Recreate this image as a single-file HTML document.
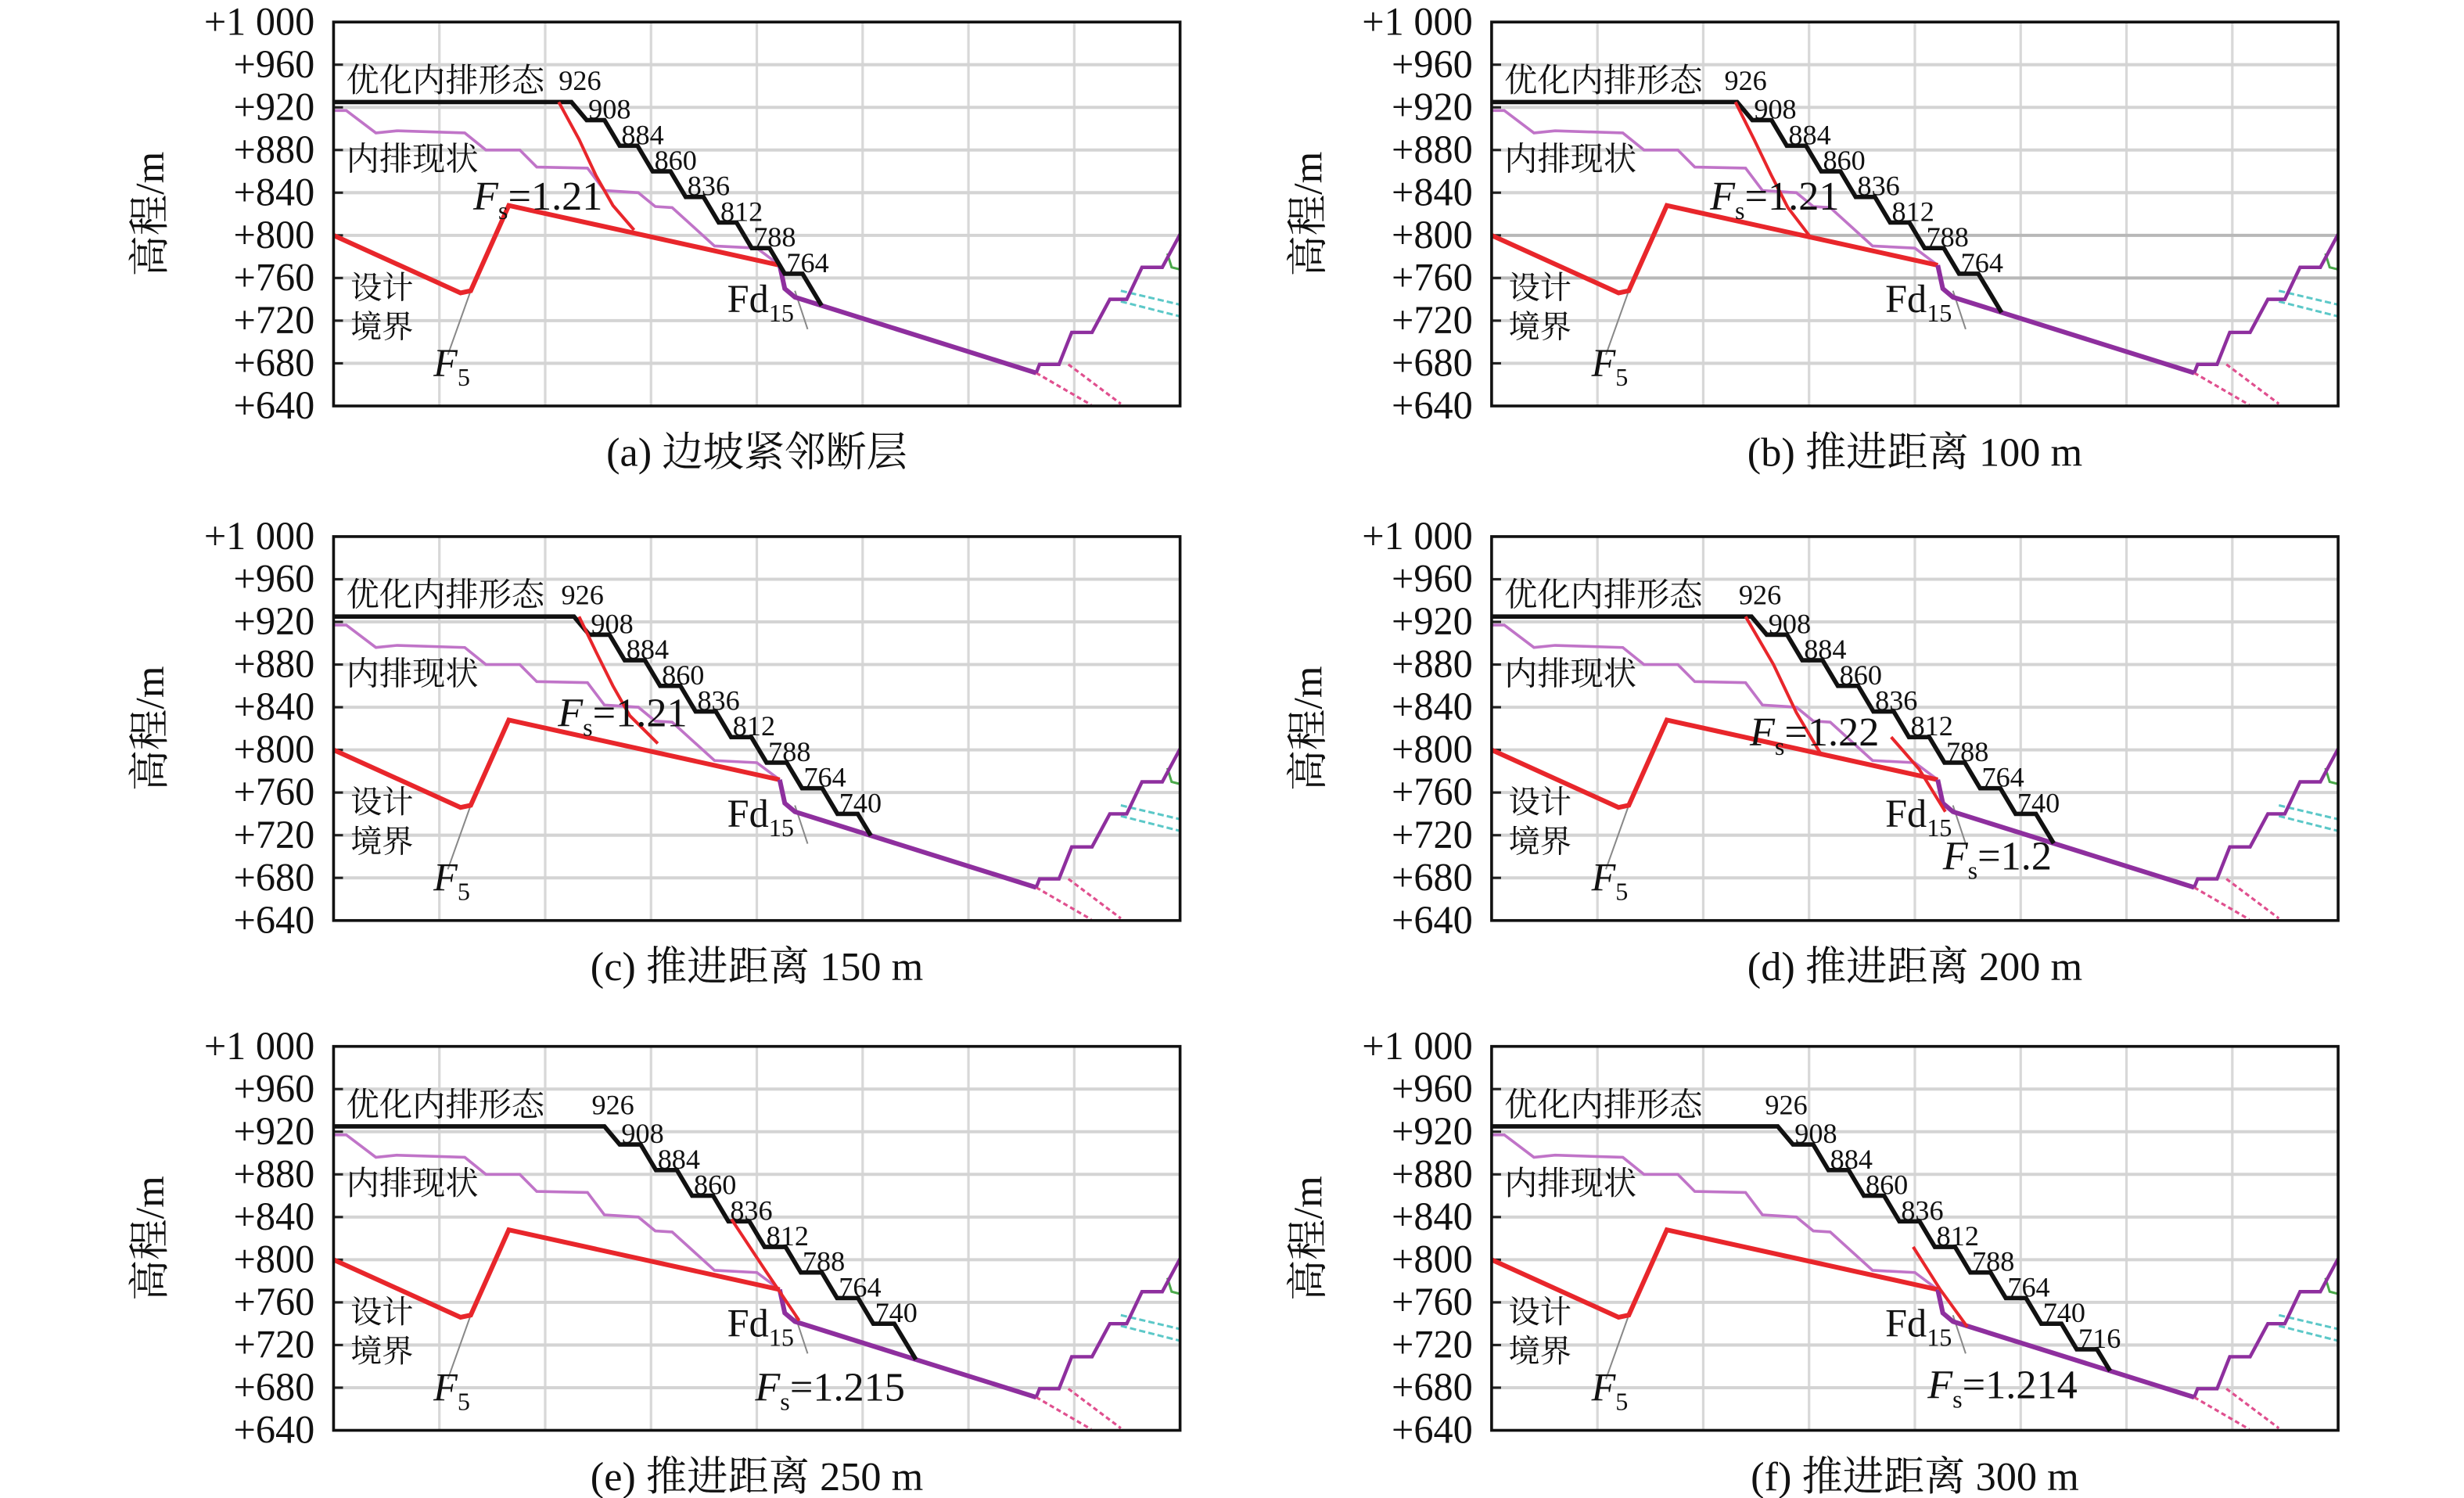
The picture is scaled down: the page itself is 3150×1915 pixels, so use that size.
<!DOCTYPE html>
<html><head><meta charset="utf-8"><style>
html,body{margin:0;padding:0;background:#fff}
svg{display:block}
text{font-family:"Liberation Serif","Noto Serif CJK SC","Noto Sans CJK SC",serif;fill:#111}
</style></head><body>
<svg id="fig" xmlns="http://www.w3.org/2000/svg" width="3150" height="1915" viewBox="0 0 1566 952" preserveAspectRatio="none"></svg>
<script>
// ---- data ----
const yTicks = [1000, 960, 920, 880, 840, 800, 760, 720, 680, 640];
const yTickLabels = ["+1 000","+960","+920","+880","+840","+800","+760","+720","+680","+640"];
const panelIds = ["a","b","c","d","e","f"];
const captions = ["(a) 边坡紧邻断层","(b) 推进距离 100 m","(c) 推进距离 150 m","(d) 推进距离 200 m","(e) 推进距离 250 m","(f) 推进距离 300 m"];
const benchA = [926,908,884,860,836,812,788,764];
const benchB = [926,908,884,860,836,812,788,764];
const benchC = [926,908,884,860,836,812,788,764,740];
const benchD = [926,908,884,860,836,812,788,764,740];
const benchE = [926,908,884,860,836,812,788,764,740];
const benchF = [926,908,884,860,836,812,788,764,740,716];
const benches = [benchA,benchB,benchC,benchD,benchE,benchF];
const topFlatEnd = [0.281,0.29,0.284,0.307,0.32,0.338];
const benchPitch = [0.039,0.0407,0.0419,0.042,0.0428,0.0419];
const designX = [0, 0.15, 0.162, 0.207, 0.527];
const designY = [800, 746, 748, 828, 772];
const faultX = [0.527, 0.533, 0.545];
const faultY = [772, 750, 742];
const baseX = [0.545, 0.83];
const baseY = [742, 671];
const stairX = [0.83,0.834,0.857,0.872,0.896,0.917,0.937,0.955,0.979,1.0];
const stairY = [671,679,679,709,709,740,740,770,770,801];
const currentX = [0,0.015,0.05,0.075,0.155,0.18,0.22,0.24,0.3,0.32,0.36,0.38,0.4,0.45,0.5,0.527];
const currentY = [917,917,896,898,896,880,880,864,863,842,840,827,826,790,788,772];
const slipA = [[0.266,925],[0.29,890],[0.31,856],[0.33,828],[0.355,805]];
const slipB = [[0.288,925],[0.31,890],[0.33,857],[0.35,826],[0.375,800]];
const slipC = [[0.29,925],[0.31,892],[0.33,860],[0.35,832],[0.383,806]];
const slipD1 = [[0.30,925],[0.333,880],[0.36,835],[0.389,796]];
const slipD2 = [[0.472,812],[0.505,782],[0.536,742]];
const slipE = [[0.47,838],[0.51,790],[0.55,743]];
const slipF = [[0.498,812],[0.53,772],[0.562,737]];
const slips = [[slipA],[slipB],[slipC],[slipD1,slipD2],[slipE],[slipF]];
const fsText = [["1.21"],["1.21"],["1.21"],["1.22","1.2"],["1.215"],["1.214"]];
const fsPos = [[[0.165,824]],[[0.258,824]],[[0.265,822]],[[0.305,804],[0.533,688]],[[0.498,668]],[[0.515,670]]];
// ---- layout ----
const W = 538, H = 244;
const origins = [[212,14],[948,14],[212,341],[948,341],[212,665],[948,665]];
const svg = document.getElementById('fig');
const NS = 'http://www.w3.org/2000/svg';
function mk(tag, attrs, parent){const e=document.createElementNS(NS,tag);for(const k in attrs)e.setAttribute(k,attrs[k]);(parent||svg).appendChild(e);return e;}
function baseElev(x){return baseY[0]+(baseY[1]-baseY[0])*(x-baseX[0])/(baseX[1]-baseX[0]);}

panelIds.forEach((pid, i) => {
  const [ox, oy] = origins[i];
  const X = f => ox + f*W;
  const Y = e => oy + (1000-e)*H/360;
  const g = mk('g', {});
  
  
  for (let k = 1; k < 8; k++) {
    const l = mk('line', {x1:X(k/8), x2:X(k/8), y1:oy, y2:oy+H, stroke:'#d8d8d8', 'stroke-width':1.6}, g);
    
    
  }
  yTicks.forEach((t, k) => {
    if (t < 1000 && t > 640) {
      const dark = (pid === 'b' && (t === 800 || t === 760));
      const l = mk('line', {x1:ox, x2:ox+W, y1:Y(t), y2:Y(t), stroke: dark ? '#b8b8b8' : '#d4d4d4', 'stroke-width':2}, g);
      
      
      const tk = mk('line', {x1:ox, x2:ox+6, y1:Y(t), y2:Y(t), stroke:'#222', 'stroke-width':1.5}, g);
      
      
    }
    const tl = mk('text', {x:ox-12, y:Y(t)+8, 'font-size':25, 'text-anchor':'end'}, g);
    tl.textContent = yTickLabels[k];
    
    
  });
  const yt = mk('text', {x:0, y:0, 'font-size':26, 'text-anchor':'middle', transform:`translate(${ox-108},${oy+H/2}) rotate(-90)`}, g);
  yt.textContent = '高程/m';
  
  
  const pts = (xs, ys) => xs.map((x, k) => X(x)+','+Y(ys[k])).join(' ');
  [[0.83,671,0.895,641],[0.868,679,0.93,642]].forEach(d => {
    const l = mk('line', {x1:X(d[0]), y1:Y(d[1]), x2:X(d[2]), y2:Y(d[3]), stroke:'#e0508f', 'stroke-width':1.6, 'stroke-dasharray':'3,2'}, g);
    
    
  });
  [[0.93,748,1.0,735],[0.93,738,1.0,724]].forEach(d => {
    const l = mk('line', {x1:X(d[0]), y1:Y(d[1]), x2:X(d[2]), y2:Y(d[3]), stroke:'#5cc8c8', 'stroke-width':1.5, 'stroke-dasharray':'4,2'}, g);
    
    
  });
  const gr = mk('polyline', {points:pts([0.985,0.99,1.0],[783,770,768]), fill:'none', stroke:'#4aa84a', 'stroke-width':1.5}, g);
  
  
  [[0.162,748,0.135,688],[0.545,748,0.56,712]].forEach(d => {
    const l = mk('line', {x1:X(d[0]), y1:Y(d[1]), x2:X(d[2]), y2:Y(d[3]), stroke:'#888', 'stroke-width':1}, g);
    
    
  });
  const cur = mk('polyline', {points:pts(currentX, currentY), fill:'none', stroke:'#c074c8', 'stroke-width':1.8}, g);
  
  
  const des = mk('polyline', {points:pts(designX, designY), fill:'none', stroke:'#e8262b', 'stroke-width':3}, g);
  
  
  const fx = faultX.concat(baseX.slice(1)), fy = faultY.concat(baseY.slice(1));
  const bl = mk('polyline', {points:pts(fx, fy), fill:'none', stroke:'#8e2f9e', 'stroke-width':3}, g);
  
  
  const st = mk('polyline', {points:pts(stairX, stairY), fill:'none', stroke:'#8e2f9e', 'stroke-width':2.2}, g);
  
  
  const b = benches[i], p = benchPitch[i], drop = 0.018, slope = 24/drop;
  const bx = [0, topFlatEnd[i]], by = [925, 925];
  let x = topFlatEnd[i];
  const labelPos = [[x-0.015, 926]];
  for (let k = 1; k < b.length; k++) {
    x += drop; bx.push(x); by.push(b[k]);
    labelPos.push([x+0.002, b[k]]);
    x += p - drop; bx.push(x); by.push(b[k]);
  }
  const eLast = b[b.length-1];
  let dx = 0;
  while (eLast - slope*dx > baseElev(x+dx) && dx < 0.2) dx += 0.0005;
  bx.push(x+dx); by.push(baseElev(x+dx));
  const blk = mk('polyline', {points:pts(bx, by), fill:'none', stroke:'#111', 'stroke-width':2.8}, g);
  
  
  b.forEach((e, k) => {
    const t = mk('text', {x:X(labelPos[k][0]), y:Y(e)-(k === 0 ? 7 : 1), 'font-size':18}, g);
    t.textContent = e;
    
    
  });
  slips[i].forEach(s => {
    const l = mk('polyline', {points:s.map(q => X(q[0])+','+Y(q[1])).join(' '), fill:'none', stroke:'#e8262b', 'stroke-width':2}, g);
    
    
  });
  fsText[i].forEach((v, k) => {
    const [fxp, fyp] = fsPos[i][k];
    const t = mk('text', {x:X(fxp), y:Y(fyp), 'font-size':26}, g);
    t.innerHTML = '<tspan font-style="italic">F</tspan><tspan font-size="16" dy="6">s</tspan><tspan dy="-6">=' + v + '</tspan>';
    
    
  });
  const ann = [['优化内排形态',0.015,935,21],['内排现状',0.015,861,21],['设计',0.02,741,20],['境界',0.02,704,20]];
  ann.forEach(a => {
    const t = mk('text', {x:X(a[1]), y:Y(a[2]), 'font-size':a[3]}, g);
    t.textContent = a[0];
    
    
  });
  const f5 = mk('text', {x:X(0.118), y:Y(668), 'font-size':25}, g);
  f5.innerHTML = '<tspan font-style="italic">F</tspan><tspan font-size="16" dy="6">5</tspan>';
  
  
  const fd = mk('text', {x:X(0.465), y:Y(728), 'font-size':25}, g);
  fd.innerHTML = 'Fd<tspan font-size="16" dy="6">15</tspan>';
  
  
  const fr = mk('rect', {x:ox, y:oy, width:W, height:H, fill:'none', stroke:'#111', 'stroke-width':1.8}, g);
  
  
  const cp = mk('text', {x:ox+W/2, y:oy+H+38, 'font-size':26, 'text-anchor':'middle'}, g);
  cp.textContent = captions[i];
  
  
});
</script>
</body></html>
